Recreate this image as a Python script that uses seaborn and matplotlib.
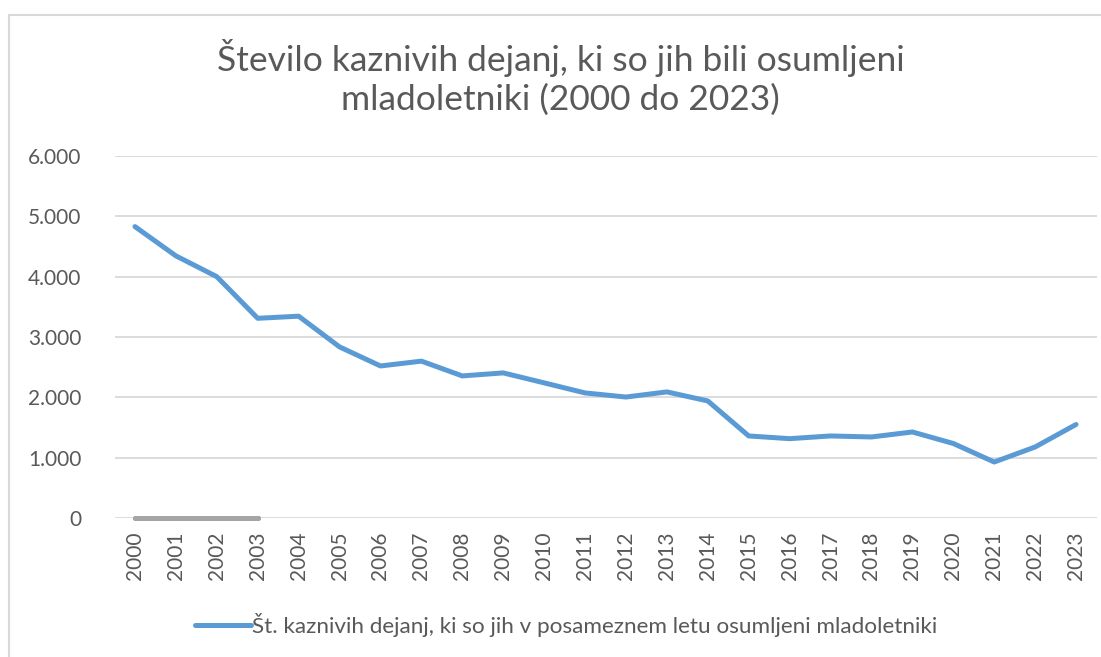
import numpy as np
import pandas as pd
import matplotlib
matplotlib.use("Agg")
import matplotlib.pyplot as plt
from matplotlib.patches import Rectangle
from matplotlib.ticker import FuncFormatter
import seaborn as sns

# ── data ──────────────────────────────────────────────────────────────────────
years = list(range(2000, 2024))
dejanja = [4830, 4345, 4000, 3310, 3345, 2836, 2520, 2600, 2355, 2405,
           2240, 2073, 2005, 2090, 1940, 1360, 1315, 1360, 1343, 1426,
           1235, 928, 1177, 1550]
# two extra series that only show as flat stubs at zero (2000–2003)
years_short = [2000, 2001, 2002, 2003]
stub_orange = [0, 0, 0, 0]
stub_grey = [0, 0, 0, 0]

title = "Število kaznivih dejanj, ki so jih bili osumljeni\nmladoletniki (2000 do 2023)"
legend_label = "Št. kaznivih dejanj, ki so jih v posameznem letu osumljeni mladoletniki"

TEXT = "#595959"
BLUE = "#5b9bd5"
GRID = "#d9d9d9"

sns.set_theme(style="white")
plt.rcParams["font.family"] = ["Lato", "DejaVu Sans"]

df = pd.DataFrame({"leto": years, "st": dejanja})
df_stub = pd.DataFrame({"leto": years_short, "orange": stub_orange, "grey": stub_grey})

fig = plt.figure(figsize=(11.01, 6.57), dpi=100)
ax = fig.add_axes([114.5 / 1101, 1 - 518 / 657, (1096.5 - 114.5) / 1101, (518 - 156) / 657])

sns.lineplot(data=df_stub, x="leto", y="orange", ax=ax, color="#ed7d31",
             lw=3.6, solid_capstyle="round", zorder=2, clip_on=False)
sns.lineplot(data=df_stub, x="leto", y="grey", ax=ax, color="#a5a5a5",
             lw=3.6, solid_capstyle="round", zorder=3, clip_on=False)
sns.lineplot(data=df, x="leto", y="st", ax=ax, color=BLUE, lw=3.6,
             solid_capstyle="round", label=legend_label, zorder=4)

ax.set_xlim(1999.5, 2023.5)
ax.set_ylim(0, 6000)
ax.set_yticks(range(0, 6001, 1000))
ax.yaxis.set_major_formatter(FuncFormatter(lambda v, p: f"{int(v):,}".replace(",", ".")))
ax.set_xticks(years)
ax.set_xticklabels([str(y) for y in years], rotation=90)
ax.tick_params(axis="both", labelsize=15, colors=TEXT, length=0)
ax.tick_params(axis="y", pad=24)
ax.tick_params(axis="x", pad=10)
ax.grid(axis="y", color=GRID, lw=1.3)
ax.set_axisbelow(True)
for s in ax.spines.values():
    s.set_visible(False)
ax.set_xlabel("")
ax.set_ylabel("")

ax.get_legend().remove()
fig.legend(*ax.get_legend_handles_labels(), loc="center", bbox_to_anchor=(0.514, 1 - 625 / 657),
           frameon=False, fontsize=16.2, labelcolor=TEXT, handlelength=2.5, handletextpad=0.05)

fig.text(0.509, 1 - 77 / 657, title, ha="center", va="center", fontsize=25.5,
         color=TEXT, fontweight="normal", linespacing=1.25)

# outer chart frame (only left/top edges visible in the crop)
fig.add_artist(Rectangle((8.5 / 1101, -0.1), 1.2, (657 - 14.5) / 657 + 0.1,
                         transform=fig.transFigure, fill=False, edgecolor=GRID, lw=1.5))

fig.savefig("out.png", dpi=100)
